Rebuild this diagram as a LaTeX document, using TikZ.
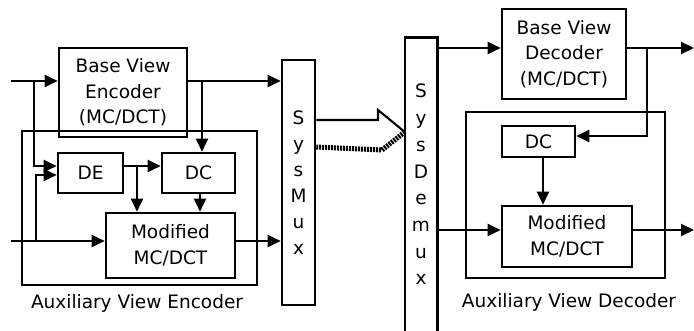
\documentclass[tikz,border=0pt]{standalone}
\usepackage{fontspec}
\setmainfont{DejaVu Sans}
\usetikzlibrary{arrows.meta}
\begin{document}
\begin{tikzpicture}[x=1pt,y=-1pt,font=\fontsize{18.5}{25.5}\selectfont,
  blk/.style={draw,line width=2.6pt,align=center,inner sep=0pt},
  arr/.style={line width=2.1pt,-{Triangle[length=13pt,width=12pt]}},
  ln/.style={line width=2.1pt}]
  \useasboundingbox (0,0) rectangle (694,331);
  % encoder
  \node[blk,minimum width=235pt,minimum height=154pt] (auxenc) at (139.5,208){};
  \node[blk,minimum width=128pt,minimum height=89pt] (bve) at (123,92.5){Base View\\Encoder\\(MC/DCT)};
  \node[blk,minimum width=65pt,minimum height=40pt] (de) at (90.5,173){DE};
  \node[blk,minimum width=73pt,minimum height=40pt] (dce) at (198.5,173){DC};
  \node[blk,minimum width=129pt,minimum height=65pt] (mode) at (170.5,245.5){Modified\\MC/DCT};
  \node[blk,minimum width=33pt,minimum height=245pt,font=\fontsize{18.5}{26}\selectfont] (mux) at (298.5,182.5){S\\y\\s\\M\\u\\x};
  \node (lblenc) at (137,303){Auxiliary View Encoder};
  % decoder
  \node[minimum width=32pt,minimum height=293pt,inner sep=0pt,align=center,font=\fontsize{18.5}{26.7}\selectfont] (demux) at (421,184.5){S\\y\\s\\D\\e\\m\\u\\x};
  \draw[line width=2.6pt] (demux.south west) |- (demux.north east) -- (demux.south east);
  \node[blk,minimum width=199pt,minimum height=166pt] (auxdec) at (565.5,195){};
  \node[blk,minimum width=124pt,minimum height=90pt] (bvd) at (564,54){Base View\\Decoder\\(MC/DCT)};
  \node[blk,minimum width=73pt,minimum height=31pt] (dcd) at (538.5,141.5){DC};
  \node[blk,minimum width=130pt,minimum height=61pt] (modd) at (567,236.5){Modified\\MC/DCT};
  \node (lbldec) at (569,302){Auxiliary View Decoder};
  % inputs and junctions
  \coordinate (ina) at (11,81);
  \coordinate (inb) at (11,241);
  \coordinate (ja) at (34,81);
  \coordinate (jb) at (36,241);
  \coordinate (jc) at (202,81);
  \coordinate (jd) at (137,166);
  \coordinate (je) at (647,48);
  \coordinate (outa) at (694,48);
  \coordinate (outb) at (694,230);
  \coordinate (tu) at (0,120);
  \coordinate (tt) at (0,132);
  \coordinate (tl) at (0,147);
  % encoder connectors
  \draw[arr] (ina) -- (ina -| bve.west);
  \draw[arr] (ja) |- ([yshift=7pt]de.west);
  \draw[arr] (jb) |- ([yshift=-2pt]de.west);
  \draw[arr] (inb) -- (inb -| mode.west);
  \draw[arr] (ina -| bve.east) -- (ina -| mux.west);
  \draw[arr] (jc) -- (jc |- dce.north);
  \draw[arr] ([yshift=7pt]de.east) -- ([yshift=7pt]dce.west);
  \draw[arr] (jd) -- (jd |- mode.north);
  \draw[arr] ([xshift=1.5pt]dce.south) -- ([xshift=1.5pt]dce.south |- mode.north);
  \draw[arr] (inb -| mode.east) -- (inb -| mux.west);
  % channel
  \draw[ln] (tu -| mux.east) -- (378,120) -- (378,110) -- (tt -| demux.west);
  \draw[line width=5pt,dash pattern=on 2pt off 1pt] (tt -| demux.west) -- (382,150) -- (tl -| mux.east);
  % decoder connectors
  \draw[arr] (outa -| demux.east) -- (outa -| bvd.west);
  \draw[arr] (outa -| bvd.east) -- (outa);
  \draw[arr] (je) |- ([yshift=5.5pt]dcd.east);
  \draw[arr] ([xshift=4.5pt]dcd.south) -- ([xshift=4.5pt]dcd.south |- modd.north);
  \draw[arr] (outb -| demux.east) -- (outb -| modd.west);
  \draw[arr] (outb -| modd.east) -- (outb);
\end{tikzpicture}
\end{document}
